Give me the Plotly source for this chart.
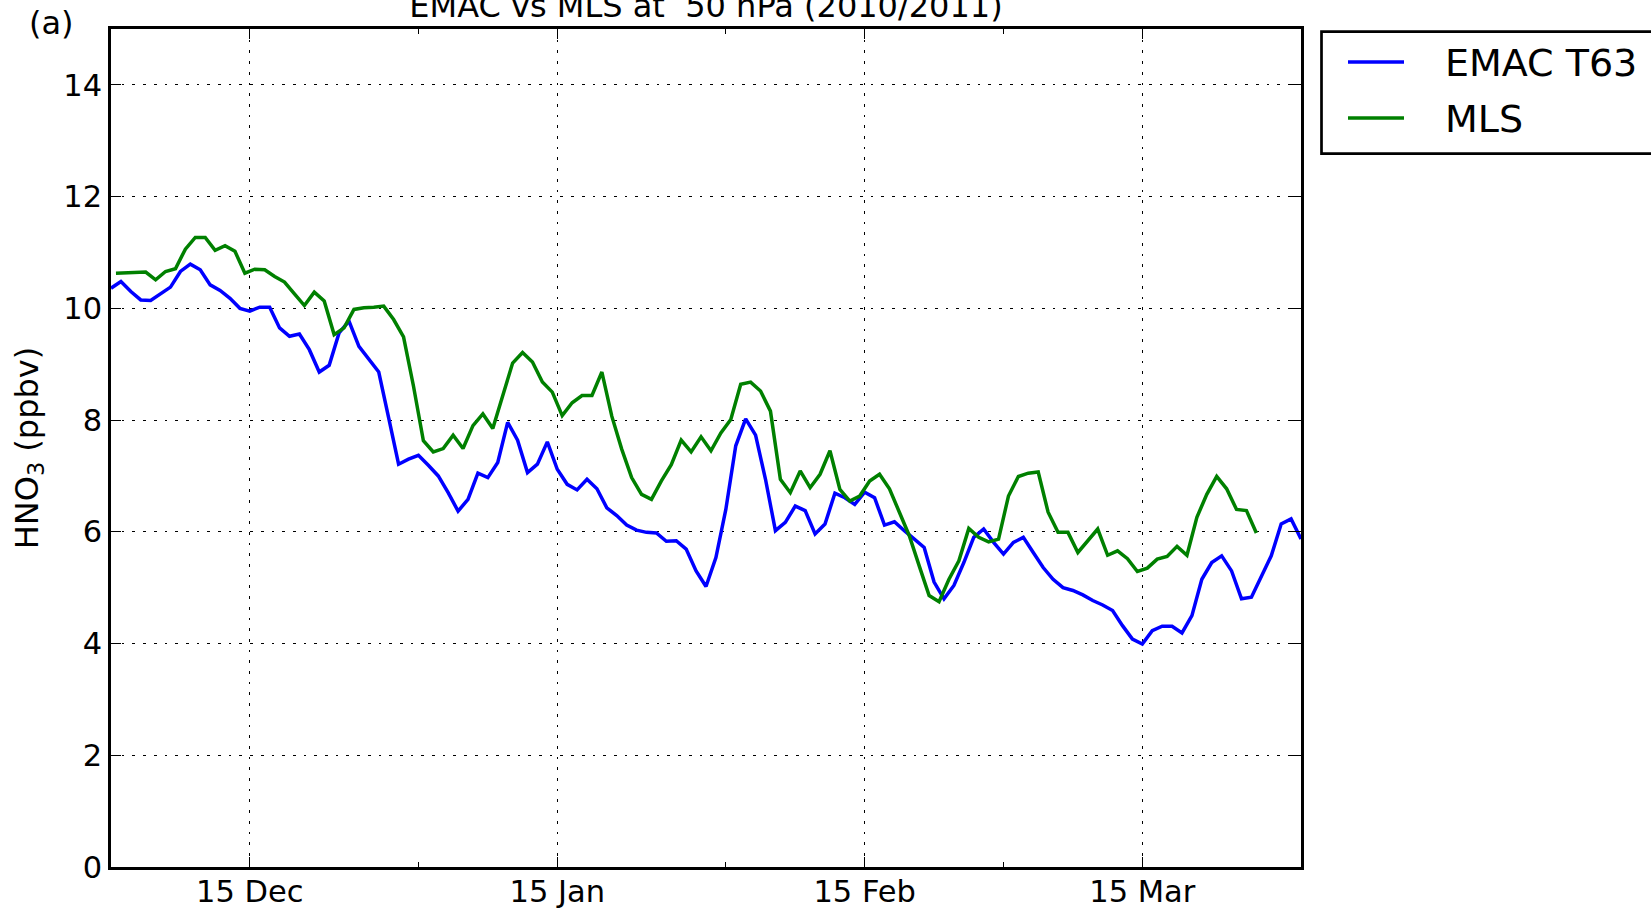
import pandas as pd
import plotly.graph_objects as go

# ---------------- data ----------------
emac_start = "2010-12-01 00:00"   # daily model output
mls_start = "2010-12-01 12:00"    # daily satellite means

emac_hno3 = [
    10.36, 10.48, 10.30, 10.15, 10.14, 10.26, 10.38, 10.66, 10.79, 10.69,
    10.42, 10.32, 10.18, 10.00, 9.95, 10.02, 10.02, 9.65, 9.50, 9.54,
    9.26, 8.86, 8.98, 9.56, 9.77, 9.32, 9.10, 8.86, 8.04, 7.21,
    7.30, 7.37, 7.19, 7.00, 6.70, 6.37, 6.58, 7.05, 6.97, 7.24,
    7.96, 7.64, 7.06, 7.21, 7.61, 7.12, 6.85, 6.75, 6.94, 6.77,
    6.43, 6.29, 6.12, 6.03, 5.99, 5.98, 5.83, 5.84, 5.69, 5.30,
    5.02, 5.54, 6.40, 7.54, 8.02, 7.73, 6.94, 6.02, 6.17, 6.46,
    6.38, 5.96, 6.14, 6.69, 6.61, 6.49, 6.71, 6.61, 6.12, 6.18,
    6.02, 5.86, 5.72, 5.10, 4.80, 5.04, 5.45, 5.90, 6.05, 5.81,
    5.60, 5.81, 5.90, 5.63, 5.36, 5.15, 5.00, 4.95, 4.87, 4.77,
    4.69, 4.59, 4.32, 4.08, 3.99, 4.23, 4.31, 4.31, 4.19, 4.50,
    5.15, 5.45, 5.57, 5.30, 4.80, 4.83, 5.21, 5.57, 6.14, 6.23,
    5.87,
]

mls_hno3 = [
    10.63, 10.64, 10.65, 10.65, 10.51, 10.66, 10.71, 11.06, 11.27, 11.27,
    11.04, 11.12, 11.02, 10.63, 10.70, 10.69, 10.57, 10.47, 10.26, 10.05,
    10.29, 10.13, 9.53, 9.65, 9.98, 10.01, 10.02, 10.04, 9.80, 9.49,
    8.61, 7.63, 7.43, 7.49, 7.73, 7.49, 7.90, 8.11, 7.85, 8.43,
    9.02, 9.21, 9.04, 8.68, 8.50, 8.08, 8.31, 8.44, 8.44, 8.86,
    8.07, 7.48, 6.97, 6.67, 6.58, 6.91, 7.20, 7.64, 7.43, 7.70,
    7.45, 7.77, 8.01, 8.64, 8.68, 8.52, 8.16, 6.94, 6.70, 7.09,
    6.79, 7.03, 7.45, 6.76, 6.55, 6.64, 6.91, 7.03, 6.77, 6.35,
    5.93, 5.39, 4.86, 4.75, 5.15, 5.48, 6.06, 5.90, 5.82, 5.87,
    6.64, 6.99, 7.05, 7.07, 6.35, 5.99, 5.99, 5.63, 5.84, 6.05,
    5.58, 5.66, 5.52, 5.29, 5.35, 5.51, 5.56, 5.74, 5.58, 6.26,
    6.67, 6.99, 6.77, 6.40, 6.38, 5.98,
]

series_names = ["EMAC T63", "MLS"]
series_colors = ["#0000ff", "#008000"]

x_range = ["2010-12-01", "2011-03-31"]
x_major_ticks = ["2010-12-15", "2011-01-15", "2011-02-15", "2011-03-15"]
x_major_labels = ["15 Dec", "15 Jan", "15 Feb", "15 Mar"]
x_minor_ticks = ["2011-01-01", "2011-02-01", "2011-03-01"]
y_range = [0, 15]
y_ticks = [0, 2, 4, 6, 8, 10, 12, 14]

title_text = "EMAC vs MLS at \u00a050 hPa (2010/2011)"
panel_label = "(a)"
y_title = "HNO<sub>3</sub> (ppbv)"

emac_dates = pd.date_range(emac_start, periods=len(emac_hno3), freq="D")
mls_dates = pd.date_range(mls_start, periods=len(mls_hno3), freq="D")

# ---------------- figure ----------------
FONT = "DejaVu Sans, Liberation Sans, sans-serif"
W, H = 1651, 910
ML, MR, MT, MB = 111, 350, 29, 43
PW, PH = W - ML - MR, H - MT - MB


def px_x(p):
    return (p - ML) / PW


def px_y(p):
    return (H - MB - p) / PH


fig = go.Figure()
for name, xs, ys, col in [
    (series_names[0], emac_dates, emac_hno3, series_colors[0]),
    (series_names[1], mls_dates, mls_hno3, series_colors[1]),
]:
    fig.add_trace(go.Scatter(x=xs, y=ys, mode="lines", name=name,
                             line=dict(color=col, width=3.5),
                             showlegend=False, cliponaxis=True))

axis_common = dict(
    showline=True, linecolor="black", linewidth=2.7, mirror="ticks",
    ticks="inside", tickcolor="black", tickwidth=1.4,
    showgrid=True, gridcolor="black", gridwidth=1.3, griddash="2.7px,8px",
    zeroline=False,
    tickfont=dict(family=FONT, size=30.5, color="black"),
)

fig.update_xaxes(
    type="date", range=x_range,
    tickmode="array", tickvals=x_major_ticks, ticktext=x_major_labels,
    ticklen=10.5, ticklabelstandoff=-4,
    minor=dict(tickmode="array", tickvals=x_minor_ticks, ticks="inside",
               ticklen=5.3, tickwidth=1.4, tickcolor="black", showgrid=False),
    **axis_common,
)
fig.update_yaxes(
    range=y_range, tickmode="array", tickvals=y_ticks, ticklen=10.5,
    title=dict(text=y_title, font=dict(family=FONT, size=32, color="black"),
               standoff=16),
    **axis_common,
)

# manual legend (box runs off the right edge, as in the reference)
shapes = [
    dict(type="rect", xref="paper", yref="paper",
         x0=px_x(1321.5), x1=px_x(1720), y0=px_y(153.7), y1=px_y(31.6),
         line=dict(color="black", width=2.7), fillcolor="white", layer="above"),
]
legend_rows_y = [62, 118]
for yy, col in zip(legend_rows_y, series_colors):
    shapes.append(dict(type="line", xref="paper", yref="paper",
                       x0=px_x(1348), x1=px_x(1404), y0=px_y(yy), y1=px_y(yy),
                       line=dict(color=col, width=3.5), layer="above"))

annotations = []
for yy, name in zip(legend_rows_y, series_names):
    annotations.append(dict(text=name, xref="paper", yref="paper",
                            x=px_x(1443), y=px_y(yy + 1), xanchor="left",
                            yanchor="middle", showarrow=False,
                            font=dict(family=FONT, size=38, color="black")))
annotations.append(dict(text=panel_label, xref="paper", yref="paper",
                        x=px_x(27), y=px_y(23), xanchor="left", yanchor="middle",
                        showarrow=False,
                        font=dict(family=FONT, size=32, color="black")))

fig.update_layout(
    width=W, height=H,
    margin=dict(l=ML, r=MR, t=MT, b=MB, pad=0, autoexpand=False),
    paper_bgcolor="white", plot_bgcolor="white",
    title=dict(text=title_text, x=px_x(706), xref="paper", xanchor="center",
               y=1 - 6 / H, yref="container", yanchor="middle",
               font=dict(family=FONT, size=32, color="black")),
    shapes=shapes, annotations=annotations,
    font=dict(family=FONT, color="black"),
)

fig.write_html("out.html", config={"displayModeBar": False},
               post_script="document.body.style.margin='0';")
